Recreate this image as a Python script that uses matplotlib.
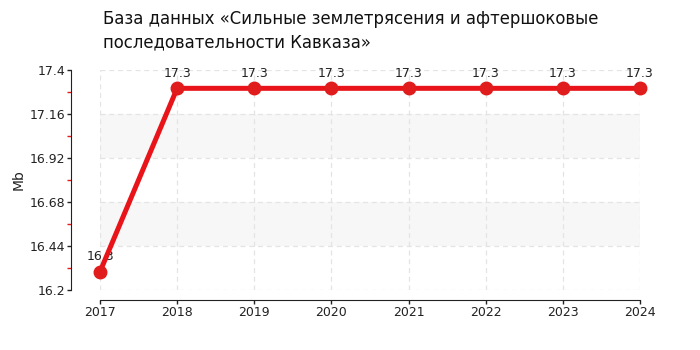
import matplotlib.pyplot as plt
from matplotlib.ticker import FixedLocator

# data
years = [2017, 2018, 2019, 2020, 2021, 2022, 2023, 2024]
values = [16.3, 17.3, 17.3, 17.3, 17.3, 17.3, 17.3, 17.3]
labels = ["16.3", "17.3", "17.3", "17.3", "17.3", "17.3", "17.3", "17.3"]
y_ticks = [16.2, 16.44, 16.68, 16.92, 17.16, 17.4]
y_tick_labels = ["16.2", "16.44", "16.68", "16.92", "17.16", "17.4"]

title = "База данных «Сильные землетрясения и афтершоковые\nпоследовательности Кавказа»"

plt.rcParams['font.family'] = ['DejaVu Sans']

fig = plt.figure(figsize=(7, 3.5), dpi=100)
ax = fig.add_axes([100 / 700, 1 - 290 / 350, 540 / 700, 220 / 350])

# alternating light bands
for lo, hi in [(y_ticks[1], y_ticks[2]), (y_ticks[3], y_ticks[4])]:
    ax.axhspan(lo, hi, color='#f7f7f7', zorder=0, lw=0)

ax.plot(years, values, color='#e8141a', lw=3.6, zorder=3,
        marker='o', markersize=9, markerfacecolor='#e01c1c',
        markeredgecolor='#e01c1c', clip_on=False)

for x, y, t in zip(years, values, labels):
    ax.annotate(t, (x, y), xytext=(0, 6), textcoords='offset points',
                ha='center', va='bottom', fontsize=9, color='#222222', zorder=2)

ax.set_xlim(years[0], years[-1])
ax.set_ylim(y_ticks[0], y_ticks[-1])
ax.set_xticks(years)
ax.set_xticklabels([str(y) for y in years])
ax.set_yticks(y_ticks)
ax.set_yticklabels(y_tick_labels)
ax.yaxis.set_minor_locator(FixedLocator([a + 0.12 for a in y_ticks[:-1]]))

ax.grid(True, which='major', color='#e4e4e4', linestyle=(0, (4, 3)), lw=0.9)
ax.set_axisbelow(True)

for s in ['top', 'right']:
    ax.spines[s].set_visible(False)
# axes lines sit away from the plot area (29px left, 10px below)
ax.spines['left'].set_position(('outward', 29 * 72 / 100))
ax.spines['bottom'].set_position(('outward', 10 * 72 / 100))
ax.spines['left'].set_color('#222222')
ax.spines['bottom'].set_color('#222222')

ax.tick_params(axis='both', which='major', labelsize=9, length=3, width=1,
               color='#222222', labelcolor='#222222', pad=1)
ax.tick_params(axis='y', which='minor', length=3, width=1, color='#e01c1c')

ax.set_ylabel("Mb", fontsize=10, color='#222222')
ax.yaxis.set_label_coords((26 - 100) / 540, 0.5)

fig.text(103 / 700, 1 - 10 / 350, title, fontsize=11.9, ha='left', va='top',
         color='#111111', linespacing=1.35)

fig.savefig("out.png", dpi=100)
